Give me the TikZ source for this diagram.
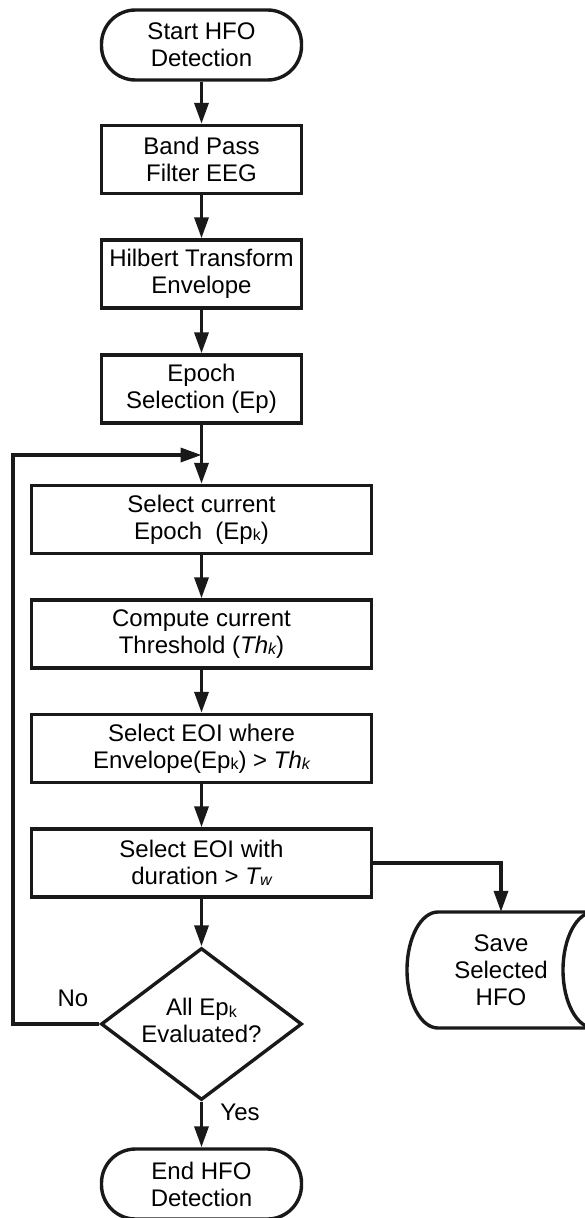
\documentclass[tikz,border=0pt]{standalone}
\usepackage{fontspec}
\setmainfont{Liberation Sans}
\usetikzlibrary{arrows.meta,shapes.geometric}
\newcommand{\sbk}[1]{\raisebox{-1.5pt}{\fontsize{16}{16}\selectfont #1}}
\begin{document}
\begin{tikzpicture}[x=1pt,y=1pt,
  every node/.style={font=\fontsize{24}{27}\selectfont, align=center, inner sep=0pt},
  ln/.style={line width=3.4pt, draw=black!90},
  arr/.style={ln, -{Triangle[length=21pt,width=14pt]}},
  term/.style={ln, rectangle, rounded corners=34pt, minimum width=200pt, minimum height=70pt},
  smallbox/.style={ln, rectangle, minimum width=200pt, minimum height=68pt},
  widebox/.style={ln, rectangle, minimum width=340pt, minimum height=68pt},
  decision/.style={ln, diamond, minimum width=201pt, minimum height=152pt, aspect=1.32},
  lbl/.style={font=\fontsize{24}{27}\selectfont}
]
\useasboundingbox (0,0) rectangle (585,-1218);
\clip (0,0) rectangle (585,-1218);

\node[term] (start) at (201.5,-45) {Start HFO\\Detection};
\node[smallbox] (bp) at (201.5,-159.5) {Band Pass\\Filter EEG};
\node[smallbox] (hil) at (201.5,-274) {Hilbert Transform\\Envelope};
\node[smallbox] (ep) at (201.5,-389) {Epoch\\Selection (Ep)};
\node[widebox] (sel) at (201.5,-519.5) {Select current\\Epoch\ \ (Ep\sbk{k})};
\node[widebox] (comp) at (201.5,-634) {Compute current\\Threshold (\textit{Th\sbk{k}})};
\node[widebox] (eoi) at (201.5,-748.5) {Select EOI where\\Envelope(Ep\sbk{k}) > \textit{Th\sbk{k}}};
\node[widebox] (dur) at (201.5,-863) {Select EOI with\\duration > \textit{T\sbk{w}}};
\node[decision] (dia) at (201.5,-1024) {\raisebox{6pt}{\begin{tabular}{@{}c@{}}All Ep\sbk{k}\\Evaluated?\end{tabular}}};
\node[term] (end) at (201.5,-1184) {End HFO\\Detection};

% storage (horizontal cylinder)
\node[minimum width=160pt, minimum height=116pt] (save) at (501,-970) {Save\\Selected\\HFO};
\draw[ln] (438,-912) -- (594,-912) arc[start angle=90, end angle=-90, x radius=31, y radius=58]
  -- (438,-1028) arc[start angle=270, end angle=90, x radius=31, y radius=58] -- cycle;
\draw[ln] (594,-912) arc[start angle=90, end angle=270, x radius=31, y radius=58];

\coordinate (join) at (201.5,-455);
\coordinate (lp) at (13,-1024);

\draw[arr] (start) -- (bp);
\draw[arr] (bp) -- (hil);
\draw[arr] (hil) -- (ep);
\draw[arr] (ep) -- (sel);
\draw[arr] (sel) -- (comp);
\draw[arr] (comp) -- (eoi);
\draw[arr] (eoi) -- (dur);
\draw[arr] (dur) -- (dia);
\draw[arr] (dia) -- (end);
\draw[arr] (dur.east) -| (save.north);
\draw[arr] (dia.west) -- (lp) |- (join);

\node[lbl] (no) at (73,-998) {No};
\node[lbl] (yes) at (240,-1112) {Yes};
\end{tikzpicture}
\end{document}
